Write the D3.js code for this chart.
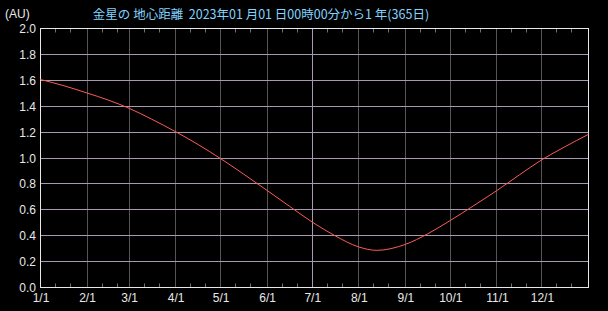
<!DOCTYPE html>
<html><head><meta charset="utf-8">
<script src="https://cdn.jsdelivr.net/npm/d3@7"></script>
<style>
html,body{margin:0;padding:0;background:#000;}
svg{display:block;}
</style></head>
<body>
<svg id="c" width="608" height="311"></svg>
<script>
// Data: geocentric distance of Venus (AU), 2023
const dates = ["2023-01-01","2023-01-16","2023-02-01","2023-02-15","2023-03-01","2023-03-16",
  "2023-04-01","2023-04-16","2023-05-01","2023-05-16","2023-06-01","2023-06-16",
  "2023-07-01","2023-07-16","2023-08-01","2023-08-13","2023-09-01","2023-09-16",
  "2023-10-01","2023-10-16","2023-11-01","2023-11-16","2023-12-01","2023-12-16","2024-01-01"];
const distances = [1.606,1.560,1.502,1.448,1.384,1.300,
  1.203,1.104,0.995,0.878,0.749,0.626,
  0.505,0.401,0.313,0.287,0.333,0.415,
  0.518,0.628,0.749,0.870,0.987,1.085,1.183];
const monthLabels = ["1/1","2/1","3/1","4/1","5/1","6/1","7/1","8/1","9/1","10/1","11/1","12/1"];
const yTicks = [0.0,0.2,0.4,0.6,0.8,1.0,1.2,1.4,1.6,1.8,2.0];
const title = "金星の 地心距離  2023年01 月01 日00時00分から1 年(365日)";
const unitLabel = "(AU)";

const svg = d3.select("#c");
const L = 40.5, R = 588.5, T = 28.5, B = 287.5;
const x = d3.scaleUtc().domain([new Date(Date.UTC(2023,0,1)), new Date(Date.UTC(2024,0,1))]).range([L, R]);
const y = d3.scaleLinear().domain([0, 2]).range([B, T]);
const px = v => Math.floor(v) + 0.5;

svg.append("rect").attr("width",608).attr("height",311).attr("fill","#000");

// minor ticks at 11th and 21st of each month (top and bottom)
const months = d3.utcMonths(new Date(Date.UTC(2023,0,1)), new Date(Date.UTC(2024,0,1)));
const minor = [];
months.forEach(m => { [10,20].forEach(d => minor.push(new Date(m.getTime() + d*86400000))); });
const gT = svg.append("g");
minor.forEach(d => {
  const xx = px(x(d));
  gT.append("line").attr("x1",xx).attr("x2",xx).attr("y1",T).attr("y2",T+4).attr("stroke","#707070");
  gT.append("line").attr("x1",xx).attr("x2",xx).attr("y1",B).attr("y2",B-4).attr("stroke","#707070");
});

// vertical month gridlines
months.slice(1).forEach((m,i) => {
  const xx = px(x(m));
  svg.append("line").attr("x1",xx).attr("x2",xx).attr("y1",T).attr("y2",B)
    .attr("stroke", m.getUTCMonth()===6 ? "#a898b0" : "#555555");
});

// horizontal gridlines
yTicks.filter(v => v>0 && v<2).forEach(v => {
  const yy = px(y(v));
  svg.append("line").attr("x1",L).attr("x2",R).attr("y1",yy).attr("y2",yy).attr("stroke","#a898b0");
});

// frame
svg.append("rect").attr("x",L).attr("y",T).attr("width",R-L).attr("height",B-T)
  .attr("fill","none").attr("stroke","#e8e8e8");

// curve
const pts = dates.map((d,i) => [new Date(d+"T00:00:00Z"), distances[i]]);
svg.append("path").datum(pts)
  .attr("d", d3.line().x(d => x(d[0])).y(d => y(d[1])).curve(d3.curveMonotoneX))
  .attr("fill","none").attr("stroke","#ff5a5a").attr("stroke-width",1);

// y labels
const font = "'Liberation Sans', Arial, sans-serif";
yTicks.forEach(v => {
  svg.append("text").attr("x",36).attr("y",y(v)+4.5).attr("text-anchor","end")
    .attr("fill","#e8e8e8").attr("font-family",font).attr("font-size",12).text(v.toFixed(1));
});
// x labels
months.forEach((m,i) => {
  svg.append("text").attr("x",x(m)+0.5).attr("y",301.5).attr("text-anchor","middle")
    .attr("fill","#e8e8e8").attr("font-family",font).attr("font-size",12).text(monthLabels[i]);
});

svg.append("text").attr("x",5).attr("y",18).attr("fill","#e8e8e8")
  .attr("font-family",font).attr("font-size",12).text(unitLabel);
svg.append("text").attr("x",261).attr("y",19).attr("text-anchor","middle")
  .attr("fill","#80d4ff").attr("font-family","'Noto Sans CJK JP', sans-serif").attr("font-size",12.5)
  .style("white-space","pre").attr("xml:space","preserve").text(title);
</script>
</body></html>
